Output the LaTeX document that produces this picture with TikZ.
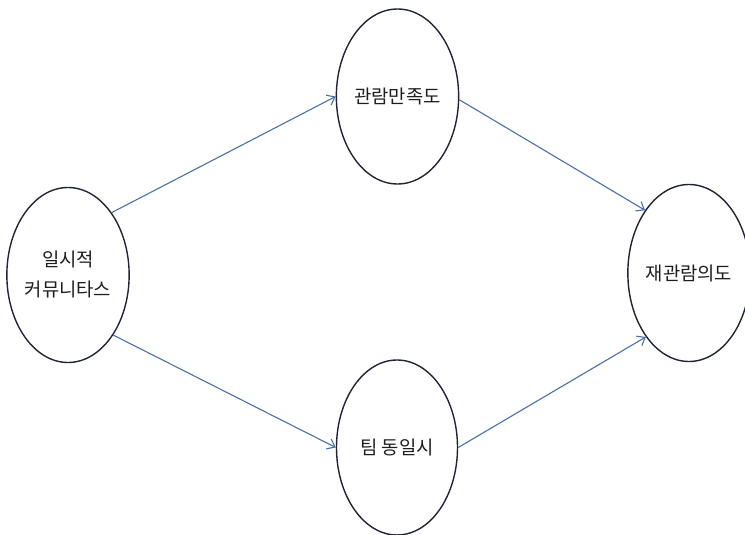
\documentclass[tikz,border=0pt]{standalone}
\usepackage{fontspec}
\newfontfamily\kr{Noto Sans CJK KR}
\usetikzlibrary{shapes.geometric,arrows.meta}
\definecolor{edgeblue}{RGB}{74,112,170}
\definecolor{ringcol}{RGB}{32,36,52}
\definecolor{txtcol}{RGB}{30,30,30}
\begin{document}
\begin{tikzpicture}[x=1pt,y=-1pt,
  oval/.style={ellipse,draw=ringcol,line width=1.4pt,inner sep=0pt,
    minimum width=121pt,minimum height=175pt,text=txtcol,
    font=\kr\fontsize{18.8}{30}\selectfont,align=center},
  link/.style={draw=edgeblue,line width=1.1pt,-{Straight Barb[length=7pt,width=11pt,line width=1.1pt]}}]
\useasboundingbox (0,0) rectangle (745,535);
\node[oval] (a) at (68,275) {일시적\\커뮤니타스};
\node[oval] (b) at (397.5,96.5) {관람만족도};
\node[oval] (c) at (397,447.5) {팀 동일시};
\node[oval,minimum width=114pt,minimum height=177pt] (d) at (689,273) {재관람의도};
\draw[link] (a.55) -- (b.180);
\draw[link] (a.-53) -- (c.180);
\draw[link] (b.-3) -- (d.125);
\draw[link] (c.0) -- (d.236);
\end{tikzpicture}
\end{document}
